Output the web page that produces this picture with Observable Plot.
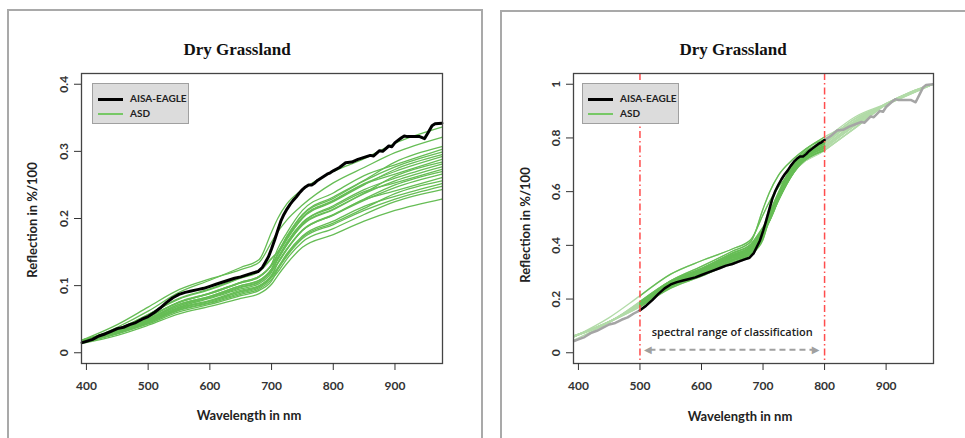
<!DOCTYPE html>
<html><head><meta charset="utf-8">
<script src="https://cdn.jsdelivr.net/npm/d3@7"></script>
<script src="https://cdn.jsdelivr.net/npm/@observablehq/plot@0.6"></script>
<style>
body{margin:0;background:#fff;width:965px;height:438px;overflow:hidden;position:relative;font-family:Lato,"Open Sans",sans-serif;}
.frame{position:absolute;border:2px solid #a9a9a9;border-bottom:none;box-sizing:border-box;}
.plot{position:absolute;top:0;}
.title{position:absolute;font-family:"Liberation Serif","Times New Roman",serif;font-weight:bold;font-size:17px;transform:translateX(-50%);white-space:nowrap;color:#111;line-height:20px;}
.xlab{position:absolute;font-weight:bold;font-size:13px;transform:translateX(-50%);white-space:nowrap;color:#222;line-height:16px;}
.ylab{position:absolute;font-weight:bold;font-size:13px;transform:translate(-50%,-50%) rotate(-90deg);white-space:nowrap;color:#222;line-height:16px;}
.legend{position:absolute;background:#dcdcdc;border:1.5px solid #a0a0a0;box-sizing:border-box;width:97px;height:41px;}
.legend .s{position:absolute;left:5px;width:25px;}
.legend .t{position:absolute;left:37px;font-size:10px;font-weight:bold;color:#222;line-height:13px;white-space:nowrap;}
</style>
</head><body>
<div class="frame" style="left:7px;top:9px;width:476px;height:440px"></div>
<div class="frame" style="left:500px;top:10px;width:480px;height:440px"></div>
<div id="left" class="plot" style="left:0px"></div>
<div id="right" class="plot" style="left:490px"></div>
<div class="title" style="left:237px;top:40px">Dry Grassland</div>
<div class="title" style="left:733px;top:40px">Dry Grassland</div>
<div class="xlab" style="left:249px;top:407px">Wavelength in nm</div>
<div class="xlab" style="left:740px;top:408px">Wavelength in nm</div>
<div class="ylab" style="left:32px;top:220px">Reflection in %/100</div>
<div class="ylab" style="left:525px;top:225px">Reflection in %/100</div>
<div class="legend" style="left:92px;top:83px">
  <div class="s" style="top:14px;border-top:3px solid #000"></div>
  <div class="t" style="top:8px">AISA-EAGLE</div>
  <div class="s" style="top:29px;border-top:2px solid #77c866"></div>
  <div class="t" style="top:23px">ASD</div>
</div>
<div class="legend" style="left:582px;top:83px">
  <div class="s" style="top:14px;border-top:3px solid #000"></div>
  <div class="t" style="top:8px">AISA-EAGLE</div>
  <div class="s" style="top:29px;border-top:2px solid #77c866"></div>
  <div class="t" style="top:23px">ASD</div>
</div>
<script>
// ---- data ----
const xTicks = [400, 500, 600, 700, 800, 900];
const yTicksRaw = [0, 0.1, 0.2, 0.3, 0.4];
const yTicksNorm = [0, 0.2, 0.4, 0.6, 0.8, 1];
const classRange = [500, 800];
const classLabel = "spectral range of classification";

const aisaWavelengths = [393,400,410,420,430,440,450,460,470,480,490,500,510,520,530,540,550,560,570,580,590,600,610,620,630,640,650,660,670,678,685,690,695,700,705,710,715,720,725,730,735,740,745,750,755,760,765,770,775,780,785,790,795,800,810,820,830,840,850,860,865,875,880,890,895,900,910,915,920,930,940,948,955,960,965,976];
const aisaReflectance = [0.015,0.017,0.020,0.025,0.028,0.032,0.036,0.038,0.042,0.045,0.050,0.054,0.060,0.067,0.075,0.082,0.087,0.090,0.092,0.094,0.096,0.099,0.102,0.105,0.108,0.111,0.113,0.116,0.119,0.121,0.127,0.135,0.143,0.155,0.168,0.182,0.196,0.206,0.214,0.221,0.227,0.232,0.238,0.243,0.247,0.250,0.250,0.253,0.257,0.260,0.263,0.266,0.268,0.271,0.276,0.283,0.284,0.288,0.291,0.294,0.293,0.301,0.300,0.308,0.307,0.313,0.320,0.323,0.322,0.322,0.322,0.319,0.330,0.338,0.341,0.342];

const asdWavelengths = [393,450,500,550,600,650,680,700,710,725,750,800,850,900,976];
const asd01 = [0.016,0.038,0.062,0.090,0.108,0.127,0.139,0.180,0.200,0.222,0.243,0.270,0.289,0.312,0.336];
const asd02 = [0.019,0.042,0.068,0.094,0.110,0.124,0.135,0.165,0.180,0.198,0.220,0.253,0.276,0.298,0.321];
const asd03 = [0.019,0.035,0.057,0.081,0.095,0.112,0.122,0.141,0.150,0.174,0.206,0.232,0.257,0.284,0.307];
const asd04 = [0.019,0.035,0.053,0.076,0.089,0.105,0.114,0.132,0.155,0.179,0.212,0.238,0.264,0.280,0.303];
const asd05 = [0.019,0.034,0.057,0.080,0.094,0.111,0.121,0.140,0.150,0.173,0.205,0.230,0.256,0.277,0.299];
const asd06 = [0.018,0.034,0.053,0.075,0.089,0.105,0.114,0.131,0.146,0.169,0.200,0.225,0.250,0.273,0.295];
const asd07 = [0.018,0.034,0.050,0.072,0.084,0.100,0.108,0.125,0.147,0.171,0.202,0.227,0.252,0.270,0.292];
const asd08 = [0.018,0.033,0.053,0.075,0.088,0.104,0.113,0.131,0.147,0.170,0.201,0.226,0.251,0.266,0.288];
const asd09 = [0.018,0.033,0.051,0.072,0.084,0.100,0.108,0.125,0.139,0.161,0.191,0.214,0.238,0.263,0.284];
const asd10 = [0.017,0.032,0.053,0.075,0.088,0.104,0.113,0.130,0.142,0.165,0.194,0.219,0.243,0.260,0.281];
const asd11 = [0.017,0.032,0.048,0.068,0.081,0.095,0.103,0.120,0.139,0.161,0.190,0.213,0.237,0.256,0.277];
const asd12 = [0.017,0.031,0.050,0.070,0.083,0.098,0.106,0.123,0.141,0.163,0.193,0.217,0.240,0.253,0.273];
const asd13 = [0.017,0.031,0.046,0.065,0.077,0.091,0.099,0.114,0.134,0.155,0.183,0.206,0.229,0.250,0.270];
const asd14 = [0.016,0.031,0.049,0.070,0.082,0.097,0.105,0.122,0.133,0.154,0.182,0.205,0.227,0.246,0.266];
const asd15 = [0.016,0.030,0.047,0.067,0.078,0.093,0.100,0.116,0.133,0.154,0.182,0.205,0.228,0.241,0.261];
const asd16 = [0.016,0.029,0.045,0.064,0.075,0.089,0.097,0.112,0.125,0.146,0.172,0.193,0.215,0.237,0.256];
const asd17 = [0.016,0.029,0.046,0.066,0.077,0.091,0.099,0.114,0.127,0.148,0.174,0.196,0.218,0.233,0.252];
const asd18 = [0.015,0.029,0.043,0.061,0.072,0.085,0.093,0.107,0.124,0.144,0.170,0.191,0.212,0.229,0.248];
const asd19 = [0.015,0.028,0.044,0.063,0.074,0.087,0.095,0.109,0.120,0.140,0.165,0.185,0.206,0.225,0.243];
const asd20 = [0.014,0.026,0.041,0.058,0.069,0.081,0.088,0.102,0.115,0.133,0.157,0.176,0.196,0.212,0.229];

// ---- tables ----
const asdSeries = [asd01,asd02,asd03,asd04,asd05,asd06,asd07,asd08,asd09,asd10,asd11,asd12,asd13,asd14,asd15,asd16,asd17,asd18,asd19,asd20];
const asdRows = asdSeries.flatMap((vals, i) => vals.map((v, j) => ({id: i, w: asdWavelengths[j], v})));
const aisaRows = aisaWavelengths.map((w, j) => ({w, v: aisaReflectance[j]}));

const GREEN = "#66bd55", PALEGREEN = "#b2dba8", PALEGRAY = "#a5a5a5";
const axisStyle = {fontSize: 12, fontWeight: "bold", color: "#333"};

function axes(yTicks) {
  return [
    Plot.frame({stroke: "#444", strokeWidth: 1.3}),
    Plot.axisX({ticks: xTicks, tickSize: 7, tickPadding: 11, label: null, ...axisStyle}),
    Plot.axisY({ticks: yTicks, tickSize: 7, tickRotate: -90, tickPadding: 7, label: null, tickFormat: d => String(d), ...axisStyle})
  ];
}

const left = Plot.plot({
  width: 480, height: 438,
  marginLeft: 81, marginRight: 38, marginTop: 73, marginBottom: 75,
  style: {background: "transparent", fontFamily: "Lato, sans-serif", overflow: "visible"},
  x: {domain: [392, 977]},
  y: {domain: [-0.016, 0.416]},
  marks: [
    Plot.line(asdRows, {x: "w", y: "v", z: "id", stroke: GREEN, strokeWidth: 1.3, curve: "monotone-x"}),
    Plot.line(aisaRows, {x: "w", y: "v", stroke: "#000", strokeWidth: 3}),
    ...axes(yTicksRaw)
  ]
});
document.getElementById("left").appendChild(left);

const inRange = d => d.w >= classRange[0] && d.w <= classRange[1];
const norm = o => Plot.normalizeY("max", o);
const right = Plot.plot({
  width: 475, height: 438,
  marginLeft: 83, marginRight: 32, marginTop: 73, marginBottom: 75,
  style: {background: "transparent", fontFamily: "Lato, sans-serif", overflow: "visible"},
  x: {domain: [392, 977]},
  y: {domain: [-0.04, 1.04]},
  marks: [
    Plot.line(asdRows, norm({x: "w", y: "v", z: "id", stroke: PALEGREEN, strokeWidth: 1.3, curve: "monotone-x"})),
    Plot.line(aisaRows, norm({x: "w", y: "v", stroke: PALEGRAY, strokeWidth: 2.5})),
    Plot.line(asdRows, Plot.filter(inRange, norm({x: "w", y: "v", z: "id", stroke: GREEN, strokeWidth: 1.3, curve: "monotone-x"}))),
    Plot.line(aisaRows, Plot.filter(inRange, norm({x: "w", y: "v", stroke: "#000", strokeWidth: 2.5}))),
    Plot.ruleX(classRange, {stroke: "#ff4d4d", strokeWidth: 1.5, strokeDasharray: "7,3,1.5,3"}),
    Plot.text([classLabel], {x: d3.mean(classRange), y: 0, dy: -20, text: d => d, fontSize: 11, fontWeight: 600, fontFamily: "'Open Sans', sans-serif", fill: "#222"}),
    Plot.ruleY([0], {x1: classRange[0], x2: classRange[1], dy: -3, insetLeft: 10, insetRight: 12, stroke: "#a0a0a0", strokeWidth: 2, strokeDasharray: "6,4"}),
    Plot.text([classRange[0]], {x: d => d, y: 0, dy: -3, dx: 8, text: () => "\u25C0", fontSize: 10, fill: "#a0a0a0", fontFamily: "DejaVu Sans"}),
    Plot.text([classRange[1]], {x: d => d, y: 0, dy: -3, dx: -9, text: () => "\u25B6", fontSize: 10, fill: "#a0a0a0", fontFamily: "DejaVu Sans"}),
    ...axes(yTicksNorm)
  ]
});
document.getElementById("right").appendChild(right);
</script>
</body></html>
